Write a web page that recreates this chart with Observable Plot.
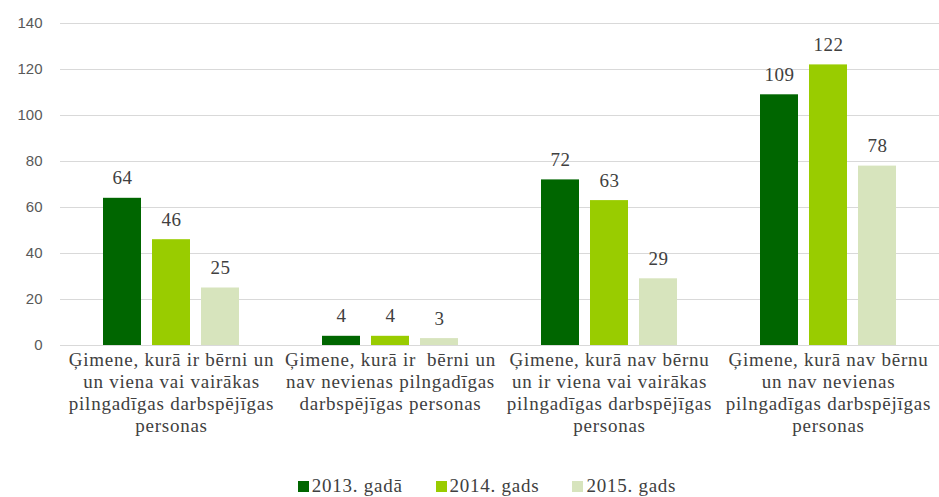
<!DOCTYPE html>
<html>
<head>
<meta charset="utf-8">
<script src="https://cdn.jsdelivr.net/npm/d3@7"></script>
<script src="https://cdn.jsdelivr.net/npm/@observablehq/plot@0.6"></script>
<style>
  html, body { margin: 0; padding: 0; background: #fff; }
  #chart svg { display: block; }
  #chart svg .cat-label text { letter-spacing: 0.75px; }
  #chart svg .val-label text { letter-spacing: 0.5px; }
  .legend { display: flex; justify-content: center; align-items: center; gap: 33px; height: 22px;
    font-family: "Liberation Serif", "Times New Roman", serif; font-size: 19px; color: #404040;
    letter-spacing: 0.75px; padding-left: 35px; }
  .legend span.item { display: inline-flex; align-items: center; }
  .legend i { display: inline-block; width: 11px; height: 11px; margin-right: 3px; }
</style>
</head>
<body>
<div id="chart"></div>
<script>
const categories = [
  "Ģimene, kurā ir bērni un\nun viena vai vairākas\npilngadīgas darbspējīgas\npersonas",
  "Ģimene, kurā ir  bērni un\nnav nevienas pilngadīgas\ndarbspējīgas personas",
  "Ģimene, kurā nav bērnu\nun ir viena vai vairākas\npilngadīgas darbspējīgas\npersonas",
  "Ģimene, kurā nav bērnu\nun nav nevienas\npilngadīgas darbspējīgas\npersonas"
];
const series = ["2013. gadā", "2014. gads", "2015. gads"];
const values2013 = [64, 4, 72, 109];
const values2014 = [46, 4, 63, 122];
const values2015 = [25, 3, 29, 78];
const colors = ["#006600", "#99cc00", "#d7e4bd"];
const yTicks = [0, 20, 40, 60, 80, 100, 120, 140];

const seriesValues = [values2013, values2014, values2015];
const data = categories.flatMap((c, i) =>
  series.map((s, j) => ({category: c, series: s, value: seriesValues[j][i]})));

const serif = "'Liberation Serif', 'Times New Roman', serif";

const chart = Plot.plot({
  width: 939,
  height: 475,
  marginLeft: 60,
  marginRight: 0,
  marginTop: 23,
  marginBottom: 130,
  style: {background: "#fff"},
  fx: {domain: categories, paddingInner: 0.38, paddingOuter: 0.19, label: null},
  x: {domain: series, paddingInner: 0.2245, paddingOuter: 0, axis: null},
  y: {domain: [0, 140], label: null},
  color: {domain: series, range: colors},
  marks: [
    Plot.ruleY(yTicks, {stroke: "#d9d9d9", strokeOpacity: 1, insetLeft: -43, insetRight: -43}),
    Plot.barY(data, {fx: "category", x: "series", y: "value", fill: "series"}),
    Plot.text(data, {fx: "category", x: "series", y: "value", text: d => String(d.value),
      dy: -14, lineAnchor: "bottom", fontFamily: serif, fontSize: 19, fill: "#404040", className: "val-label"}),
    Plot.axisY({ticks: yTicks, tickSize: 0, tickPadding: 61, fontSize: 15,
      fontFamily: "'Liberation Sans', Arial, sans-serif", color: "#595959", label: null}),
    Plot.axisFx({anchor: "bottom", tickSize: 0, tickPadding: 5, fontSize: 19, lineHeight: 1.16,
      lineWidth: Infinity, fontFamily: serif, color: "#404040", label: null, className: "cat-label"})
  ]
});
document.getElementById("chart").appendChild(chart);

const legend = document.createElement("div");
legend.className = "legend";
series.forEach((s, j) => {
  const item = document.createElement("span");
  item.className = "item";
  const sw = document.createElement("i");
  sw.style.background = colors[j];
  item.appendChild(sw);
  item.appendChild(document.createTextNode(s));
  legend.appendChild(item);
});
document.body.appendChild(legend);
</script>
</body>
</html>
